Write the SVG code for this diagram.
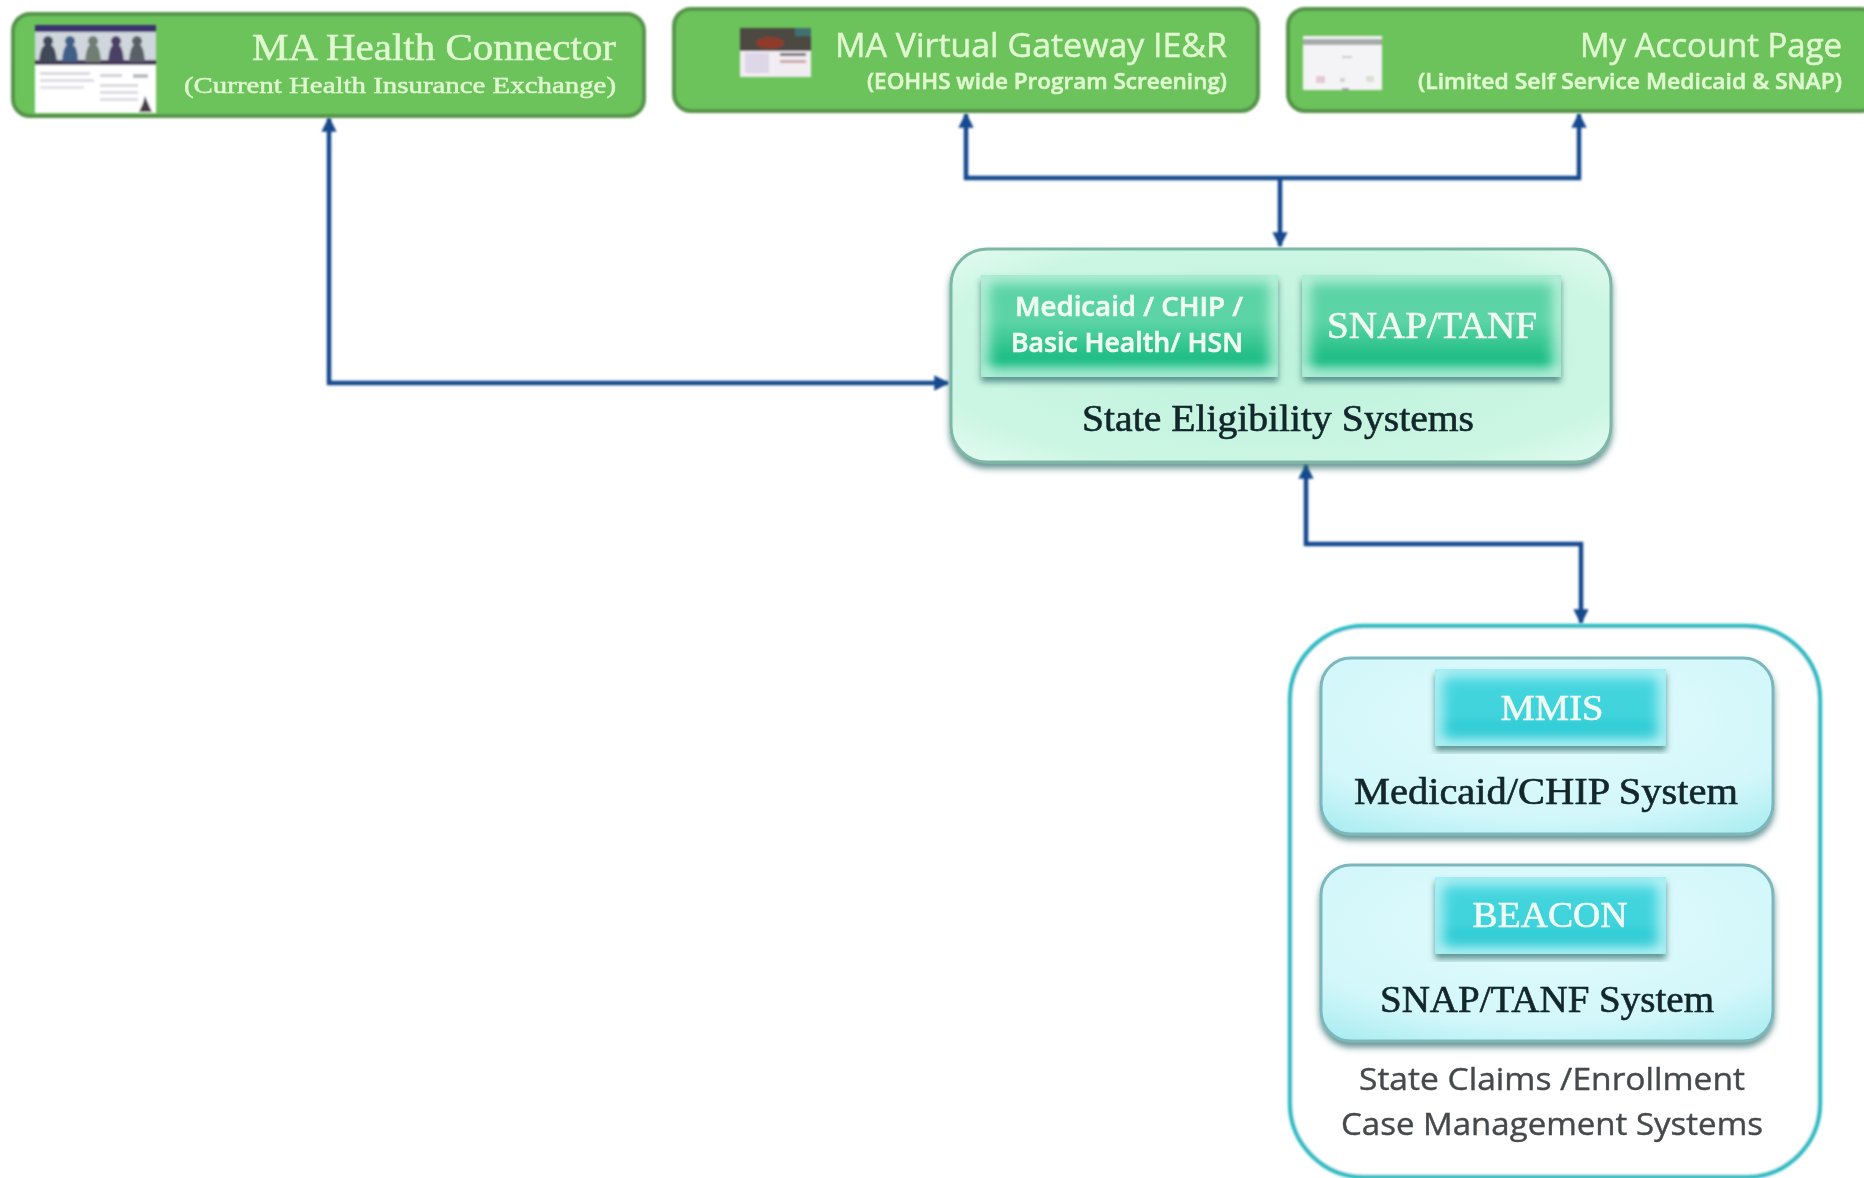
<svg xmlns="http://www.w3.org/2000/svg" width="1864" height="1178" viewBox="0 0 1864 1178">
<style>
.serif{font-family:"Liberation Serif","DejaVu Serif",serif}
.sans{font-family:"Open Sans","Liberation Sans",sans-serif}
.lt{fill:#dff8cf;stroke:#dff8cf;stroke-width:.5}
.wh{fill:#f0fbf4;stroke:#f0fbf4;stroke-width:.6}
.dk{fill:#12262a;stroke:#12262a;stroke-width:.6}
.gbox{fill:#6cc35c;stroke:#54934a;stroke-width:4}
.conn{fill:none;stroke:#15488e;stroke-width:4.5}
.sf{filter:url(#soft)}
.tf{filter:url(#tsoft)}
.gl{fill:none;filter:url(#edge)}
</style>
<defs>
<filter id="soft" x="-5%" y="-5%" width="110%" height="110%"><feGaussianBlur stdDeviation="0.8"/></filter>
<filter id="tsoft" x="-5%" y="-20%" width="110%" height="140%"><feGaussianBlur stdDeviation="0.6"/></filter>
<filter id="shadow" x="-5%" y="-5%" width="110%" height="115%"><feDropShadow dx="0" dy="5" stdDeviation="3" flood-color="#2c6a66" flood-opacity=".7"/></filter>
<filter id="edge" x="-15%" y="-25%" width="130%" height="150%"><feGaussianBlur stdDeviation="7"/></filter>
<radialGradient id="mint" cx=".5" cy=".5" r=".72"><stop offset="0" stop-color="#bdf2dc"/><stop offset=".75" stop-color="#ccf6e4"/><stop offset="1" stop-color="#e6fbf2"/></radialGradient>
<linearGradient id="mintb" x1="0" y1="0" x2="0" y2="1"><stop offset="0" stop-color="#58d2a4"/><stop offset=".45" stop-color="#5cd4a6"/><stop offset=".85" stop-color="#18bb82"/><stop offset="1" stop-color="#50cfa0"/></linearGradient>
<radialGradient id="aqua" cx=".5" cy=".35" r=".8"><stop offset="0" stop-color="#e4fbfd"/><stop offset=".7" stop-color="#d2f7fa"/><stop offset="1" stop-color="#a8ecf1"/></radialGradient>
<linearGradient id="aquab" x1="0" y1="0" x2="0" y2="1"><stop offset="0" stop-color="#45d6df"/><stop offset=".6" stop-color="#40d3dc"/><stop offset=".9" stop-color="#1fc6d1"/><stop offset="1" stop-color="#45d6df"/></linearGradient>
<clipPath id="c1"><rect x="981" y="275" width="297" height="102"/></clipPath>
<clipPath id="c2"><rect x="1302" y="275" width="259" height="102"/></clipPath>
<clipPath id="c3"><rect x="1435" y="669" width="231" height="77"/></clipPath>
<clipPath id="c4"><rect x="1435" y="877" width="231" height="77"/></clipPath>
<marker id="ah" viewBox="0 0 10 10" refX="9" refY="5" markerWidth="3.4" markerHeight="3.4" orient="auto-start-reverse"><path d="M0 0L10 5L0 10z" fill="#15488e"/></marker>
</defs>
<rect width="1864" height="1178" fill="#fff"/>

<g id="connectors" class="sf">
<path class="conn" d="M329 118V383H948" marker-start="url(#ah)" marker-end="url(#ah)"/>
<path class="conn" d="M966 114V178H1579V114" marker-start="url(#ah)" marker-end="url(#ah)"/>
<path class="conn" d="M1280 178V246" marker-end="url(#ah)"/>
<path class="conn" d="M1306 465V544H1581V623" marker-start="url(#ah)" marker-end="url(#ah)"/>
</g>

<g id="ma-health-connector">
<rect class="gbox sf" x="13" y="14" width="631" height="102" rx="17"/>
<g class="sf">
<rect x="35" y="25" width="121" height="88" fill="#fff"/>
<rect x="35" y="25" width="121" height="7" fill="#3b3270"/>
<rect x="35" y="32" width="121" height="30" fill="#cfd6dc"/>
<rect x="35" y="60" width="121" height="5" fill="#4a3a5a"/>
<path d="M39 62q1-15 6-17a5 5 0 1 1 6 0q5 2 6 17z" fill="#3f4a58"/>
<path d="M62 62q1-15 5-17a5 5 0 1 1 6 0q5 2 5 17z" fill="#3f5f86"/>
<path d="M85 62q1-15 5-17a5 5 0 1 1 6 0q4 2 5 17z" fill="#6f7d72"/>
<path d="M108 62q1-15 5-17a5 5 0 1 1 6 0q4 2 5 17z" fill="#4c3f66"/>
<path d="M129 62q1-15 5-17a5 5 0 1 1 6 0q4 2 5 17z" fill="#5a6068"/>
<rect x="40" y="72" width="50" height="3" fill="#d8d8e2"/><rect x="40" y="79" width="54" height="3" fill="#dcdce4"/><rect x="40" y="86" width="44" height="3" fill="#e2e2ea"/>
<rect x="100" y="74" width="22" height="3" fill="#cfcfd8"/><rect x="100" y="84" width="38" height="3" fill="#d8d8e0"/><rect x="100" y="91" width="38" height="3" fill="#dcdce2"/><rect x="100" y="98" width="38" height="3" fill="#dcdce2"/><rect x="133" y="74" width="15" height="4" fill="#b8bcc2"/>
<path d="M139 112l4-9 2-7 3 7 4 9z" fill="#4a3a48"/>
</g>
<text class="serif lt tf" x="616" y="60" font-size="37" text-anchor="end" textLength="364" lengthAdjust="spacingAndGlyphs">MA Health Connector</text>
<text class="serif lt tf" x="616" y="93" font-size="24" text-anchor="end" textLength="432" lengthAdjust="spacingAndGlyphs">(Current Health Insurance Exchange)</text>
</g>

<g id="ma-virtual-gateway">
<rect class="gbox sf" x="674" y="9" width="584" height="102" rx="17"/>
<g class="sf">
<rect x="740" y="28" width="71" height="49" fill="#f2edf2"/>
<rect x="740" y="28" width="71" height="23" fill="#4c4a42"/>
<rect x="795" y="28" width="16" height="8" fill="#3f6f70"/>
<ellipse cx="770" cy="43" rx="14" ry="6" fill="#8f3b2a"/>
<rect x="745" y="53" width="24" height="20" fill="#ddd7e8"/>
<rect x="780" y="53" width="26" height="3" fill="#6f6a78"/><rect x="780" y="60" width="26" height="3" fill="#c9a7a7"/>
</g>
<text class="sans lt tf" x="1227" y="57" font-size="32" text-anchor="end" textLength="392" lengthAdjust="spacingAndGlyphs">MA Virtual Gateway IE&amp;R</text>
<text class="sans lt tf" x="1227" y="89" font-size="21" font-weight="600" text-anchor="end" textLength="360" lengthAdjust="spacingAndGlyphs">(EOHHS wide Program Screening)</text>
</g>

<g id="my-account-page">
<rect class="gbox sf" x="1288" y="9" width="590" height="102" rx="17"/>
<g class="sf">
<rect x="1303" y="36" width="79" height="54" fill="#f4f4f6"/>
<rect x="1303" y="39" width="79" height="6" fill="#a5aaa8"/>
<rect x="1316" y="76" width="9" height="7" fill="#e2c9d2"/>
<rect x="1340" y="78" width="5" height="4" fill="#cfd4cf"/>
<rect x="1342" y="88" width="7" height="3" fill="#9aa09c"/>
<rect x="1366" y="76" width="8" height="6" fill="#d7e0d3"/>
<rect x="1342" y="56" width="10" height="2" fill="#c4c8c4"/>
</g>
<text class="sans lt tf" x="1842" y="57" font-size="32" text-anchor="end" textLength="262" lengthAdjust="spacingAndGlyphs">My Account Page</text>
<text class="sans lt tf" x="1842" y="89" font-size="21" font-weight="600" text-anchor="end" textLength="424" lengthAdjust="spacingAndGlyphs">(Limited Self Service  Medicaid &amp; SNAP)</text>
</g>

<g id="state-eligibility-systems">
<rect x="951" y="249" width="660" height="213" rx="36" fill="url(#mint)" stroke="#7db7a5" stroke-width="3" filter="url(#shadow)"/>
<g id="medicaid-chip-hsn">
<rect x="981" y="275" width="297" height="102" fill="url(#mintb)" filter="url(#shadow)"/>
<g clip-path="url(#c1)"><rect class="gl" x="981" y="275" width="297" height="102" stroke="#c6f4e2" stroke-width="14"/></g>
<text class="sans wh tf" x="1129" y="316" font-size="26.500" font-weight="600" text-anchor="middle" textLength="228" lengthAdjust="spacingAndGlyphs">Medicaid / CHIP /</text>
<text class="sans wh tf" x="1127" y="352" font-size="26.500" font-weight="600" text-anchor="middle" textLength="232" lengthAdjust="spacingAndGlyphs">Basic Health/ HSN</text>
</g>
<g id="snap-tanf">
<rect x="1302" y="275" width="259" height="102" fill="url(#mintb)" filter="url(#shadow)"/>
<g clip-path="url(#c2)"><rect class="gl" x="1302" y="275" width="259" height="102" stroke="#c6f4e2" stroke-width="14"/></g>
<text class="serif wh tf" x="1432" y="338" font-size="38" text-anchor="middle" textLength="210" lengthAdjust="spacingAndGlyphs">SNAP/TANF</text>
</g>
<text class="serif dk tf" x="1278" y="431" font-size="37" text-anchor="middle" textLength="392" lengthAdjust="spacingAndGlyphs">State Eligibility Systems</text>
</g>

<g id="state-claims-enrollment">
<rect class="sf" x="1290" y="626" width="530" height="551" rx="74" fill="#fff" stroke="#2dbcc5" stroke-width="4.500"/>
<g id="mmis-panel">
<rect x="1321" y="658" width="452" height="176" rx="30" fill="url(#aqua)" stroke="#7cb7bd" stroke-width="3" filter="url(#shadow)"/>
<rect x="1435" y="669" width="231" height="77" fill="url(#aquab)" filter="url(#shadow)"/>
<g clip-path="url(#c3)"><rect class="gl" x="1435" y="669" width="231" height="77" stroke="#c4f5f8" stroke-width="14"/></g>
<text class="serif wh tf" x="1552" y="720" font-size="36" text-anchor="middle" textLength="103" lengthAdjust="spacingAndGlyphs">MMIS</text>
<text class="serif dk tf" x="1546" y="804" font-size="37" text-anchor="middle" textLength="384" lengthAdjust="spacingAndGlyphs">Medicaid/CHIP System</text>
</g>
<g id="beacon-panel">
<rect x="1321" y="865" width="452" height="176" rx="30" fill="url(#aqua)" stroke="#7cb7bd" stroke-width="3" filter="url(#shadow)"/>
<rect x="1435" y="877" width="231" height="77" fill="url(#aquab)" filter="url(#shadow)"/>
<g clip-path="url(#c4)"><rect class="gl" x="1435" y="877" width="231" height="77" stroke="#c4f5f8" stroke-width="14"/></g>
<text class="serif wh tf" x="1550" y="927" font-size="36" text-anchor="middle" textLength="155" lengthAdjust="spacingAndGlyphs">BEACON</text>
<text class="serif dk tf" x="1547" y="1012" font-size="37" text-anchor="middle" textLength="334" lengthAdjust="spacingAndGlyphs">SNAP/TANF System</text>
</g>
<text class="sans tf" fill="#45494c" stroke="#45494c" stroke-width=".4" x="1552" y="1090" font-size="31" text-anchor="middle" textLength="386" lengthAdjust="spacingAndGlyphs">State Claims /Enrollment</text>
<text class="sans tf" fill="#45494c" stroke="#45494c" stroke-width=".4" x="1552" y="1135" font-size="31" text-anchor="middle" textLength="422" lengthAdjust="spacingAndGlyphs">Case Management Systems</text>
</g>
</svg>
